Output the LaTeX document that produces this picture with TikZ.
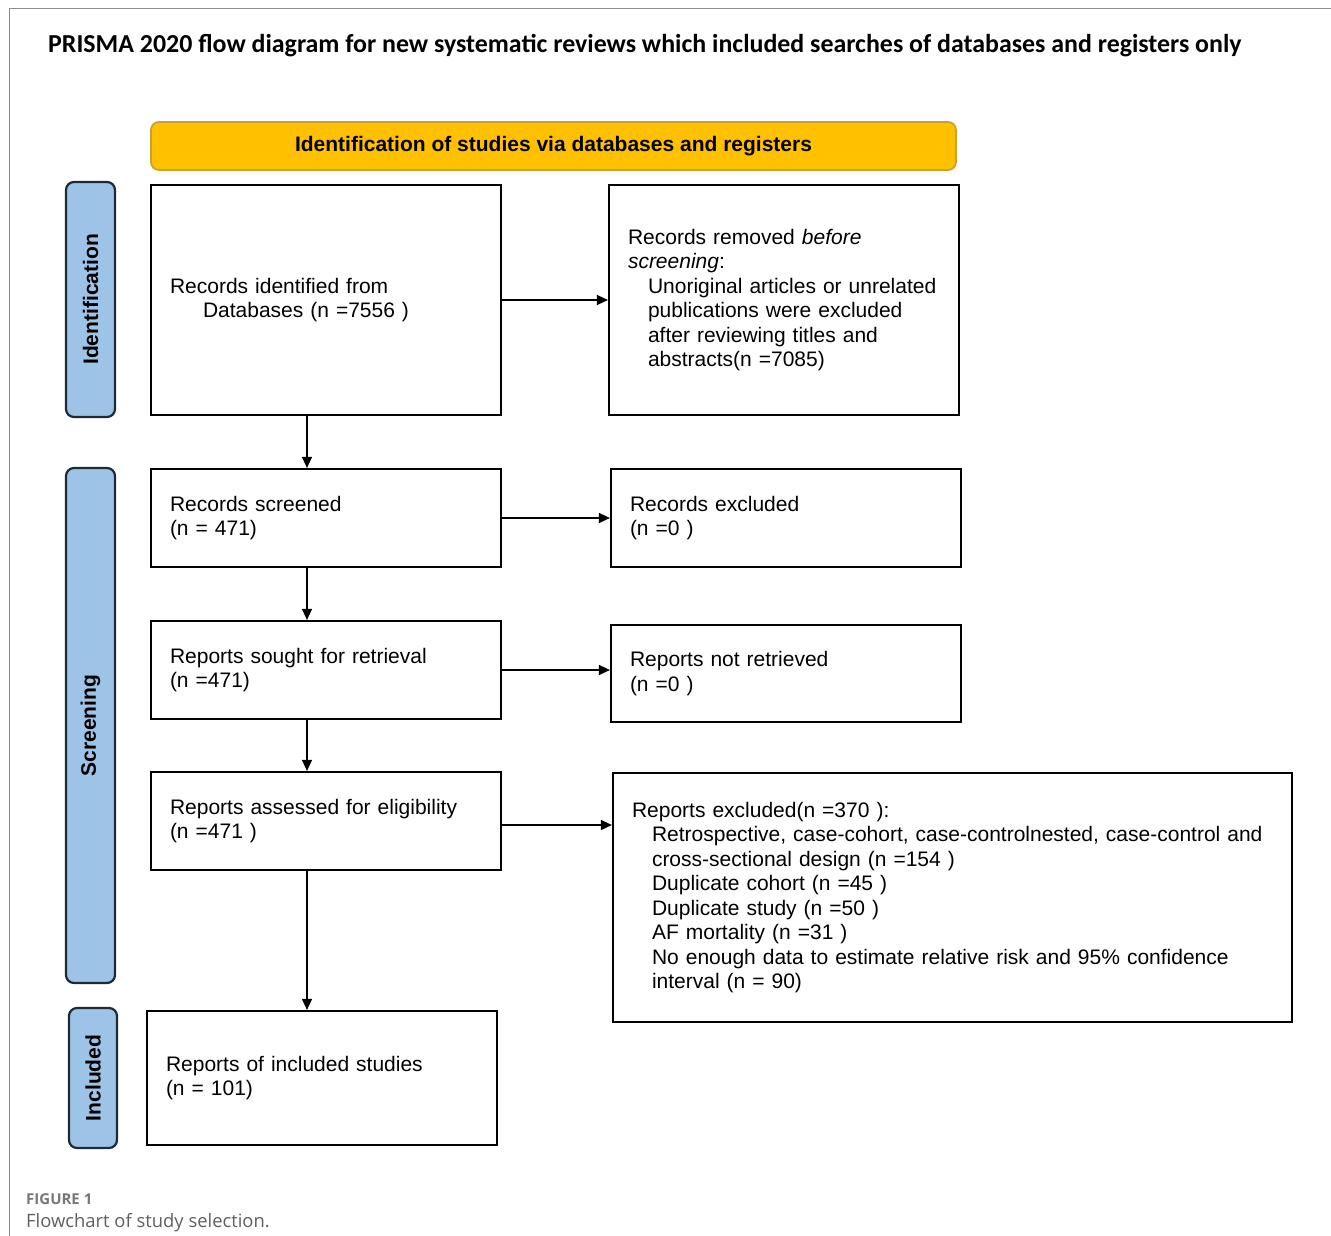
\documentclass[tikz,border=0pt]{standalone}
\usepackage{fontspec}
\setmainfont{Liberation Sans}
\newfontfamily\titlefont{Carlito}
\newfontfamily\capfont{Open Sans}
\usetikzlibrary{arrows.meta}
\definecolor{bannergold}{HTML}{FFC000}
\definecolor{bannerline}{HTML}{C9A227}
\definecolor{phaseblue}{HTML}{9DC3E6}
\definecolor{phaseline}{HTML}{1F2A36}
\definecolor{framegray}{HTML}{8C8C8C}
\definecolor{capgray}{HTML}{5F5F5F}
\begin{document}
\begin{tikzpicture}[x=1pt,y=-1pt,
    every node/.style={font=\fontsize{21}{24.5}\selectfont},
    box/.style={draw,line width=2.2pt,align=left,inner xsep=19pt,inner ysep=0pt,text width=312pt,minimum width=350pt},
    phase/.style={draw=phaseline,fill=phaseblue,line width=2.2pt,rounded corners=8pt,rotate=90,
        minimum height=49pt,inner sep=0pt,font=\fontsize{21}{24.5}\selectfont\bfseries},
    arr/.style={-{Triangle[length=11pt,width=10pt]},line width=1.5pt}]
    \useasboundingbox (0,0) rectangle (1331,1236);
    \draw[framegray,line width=1.2pt] (1331,8.5) -- (9.5,8.5) -- (9.5,1236);
    \node[anchor=base west,inner sep=0pt,font=\titlefont\fontsize{25.9}{30}\selectfont\bfseries] (title) at (48,52.5)
        {PRISMA 2020 flow diagram for new systematic reviews which included searches of databases and registers only};
    \node[draw=bannerline,fill=bannergold,line width=1.8pt,rounded corners=8pt,minimum width=805pt,minimum height=48pt,
        font=\fontsize{21}{24.5}\selectfont\bfseries] (banner) at (553.5,146) {Identification of studies via databases and registers};
    % phases
    \node[phase,minimum width=235pt] (idph) at (90.5,299.5) {Identification};
    \node[phase,minimum width=515pt] (scph) at (90.5,725.5) {Screening};
    \node[phase,minimum width=140pt,minimum height=48pt] (inph) at (93,1078) {Included};
    % boxes
    \node[box,minimum height=230pt] (b1) at (326,300) {Records identified from\\ \hspace*{33pt}Databases (n =7556 )};
    \node[box,minimum height=230pt] (b2) at (784,300) {Records removed \textit{before}\\ \textit{screening}:\\
        \hspace*{20pt}Unoriginal articles or unrelated\\ \hspace*{20pt}publications were excluded\\
        \hspace*{20pt}after reviewing titles and\\ \hspace*{20pt}abstracts(n =7085)};
    \node[box,minimum height=98pt] (b3) at (326,518) {Records screened\\(n = 471)};
    \node[box,minimum height=98pt] (b4) at (786,518) {Records excluded\\(n =0 )};
    \node[box,minimum height=98pt] (b5) at (326,670) {Reports sought for retrieval\\(n =471)};
    \node[box,minimum height=97pt] (b6) at (786,673.5) {Reports not retrieved\\(n =0 )};
    \node[box,minimum height=98pt] (b7) at (326,821) {Reports assessed for eligibility\\(n =471 )};
    \node[box,text width=641pt,minimum width=679pt,minimum height=249pt] (b8) at (952.5,897.5) {Reports excluded(n =370 ):\\
        \hspace*{20pt}Retrospective, case-cohort, case-controlnested, case-control and\\
        \hspace*{20pt}cross-sectional design (n =154 )\\ \hspace*{20pt}Duplicate cohort (n =45 )\\
        \hspace*{20pt}Duplicate study (n =50 )\\ \hspace*{20pt}AF mortality (n =31 )\\
        \hspace*{20pt}No enough data to estimate relative risk and 95\% confidence\\ \hspace*{20pt}interval (n = 90)};
    \node[box,minimum height=134pt] (b9) at (322,1078) {Reports of included studies\\(n = 101)};
    % arrows
    \coordinate (spine) at (307,0);
    \draw[arr] (b1.south -| spine) -- (b3.north -| spine);
    \draw[arr] (b3.south -| spine) -- (b5.north -| spine);
    \draw[arr] (b5.south -| spine) -- (b7.north -| spine);
    \draw[arr] (b7.south -| spine) -- (b9.north -| spine);
    \draw[arr] (b1.east) -- (b2.west);
    \draw[arr] (b3.east) -- (b4.west);
    \draw[arr] (b5.east) -- (b5.east -| b6.west);
    \draw[arr] ([yshift=-4pt]b7.east) -- ([yshift=-4pt]b7.east -| b8.west);
    % caption
    \node[anchor=base west,inner sep=0pt,text=capgray!85,font=\capfont\fontsize{15}{18}\selectfont\bfseries] (fig) at (26,1204) {FIGURE 1};
    \node[anchor=base west,inner sep=0pt,text=capgray,font=\capfont\fontsize{18.4}{21}\selectfont] (cap) at (26,1227) {Flowchart of study selection.};
\end{tikzpicture}
\end{document}
